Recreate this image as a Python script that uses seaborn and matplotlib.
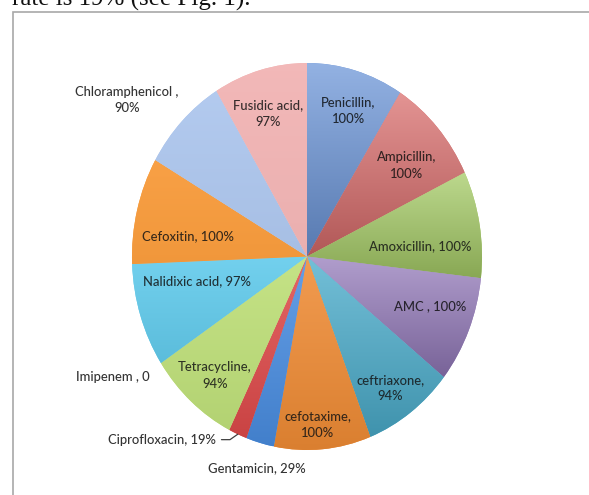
import numpy as np
import matplotlib
matplotlib.use("Agg")
import matplotlib.pyplot as plt
from matplotlib.patches import Rectangle
from matplotlib.colors import to_rgb
import seaborn as sns

# ---- data (clockwise from 12 o'clock) ----
drugs = ["Penicillin", "Ampicillin", "Amoxicillin", "AMC ", "ceftriaxone",
         "cefotaxime", "Gentamicin", "Ciprofloxacin", "Imipenem ", "Tetracycline",
         "Nalidixic acid", "Cefoxitin", "Chloramphenicol ", "Fusidic acid"]
resistance = [100, 100, 100, 100, 94, 100, 29, 19, 0, 94, 97, 100, 90, 97]
value_text = ["100%", "100%", "100%", "100%", "94%", "100%", "29%", "19%", "0",
              "94%", "97%", "100%", "90%", "97%"]

colors = ["#6b95d8", "#d96c6b", "#a5cb66", "#9379ba", "#4badcc", "#f08c35",
          "#4a8ee2", "#e04b4b", "#9bbb59", "#bfe07a", "#62cbec", "#f89c3d",
          "#aec7ee", "#f2b5b5"]
# how strong the top-light / bottom-dark shading is for each slice
shade = [0.9, 0.9, 0.85, 0.9, 0.75, 0.45, 0.5, 0.5, 0.5, 0.3, 0.35, 0.15, 0.2, 0.15]

# layout of labels: (line break?, radius factor, angular nudge in deg clockwise)
two_lines = [True, True, False, False, True, True, False, False, False, True,
             False, False, True, True]
label_r = [0.79, 0.74, 0.65, 0.75, 0.83, 0.87, 1.13, 1.26, 1.27, 0.81,
           0.64, 0.69, 1.31, 0.77]
label_nudge = [1.3, 2.2, 5.0, -2.6, 1.3, 1.1, -0.9, 18.0, 34.4, -1.0,
               6.2, -5.1, -6.2, -1.1]


def mix(c, other, t):
    c = np.array(to_rgb(c))
    return tuple(c * (1 - t) + np.array(other) * t)


sns.set_theme(style="white")
plt.rcParams["font.family"] = ["Lato", "DejaVu Sans"]

W, H = 589, 495
fig = plt.figure(figsize=(W / 100, H / 100), dpi=100)
fig.patch.set_facecolor("white")

# page fragment: caption text cut off at top and figure frame
fig.text(12 / W, 1 - 5.5 / H, "rate is 19% (see Fig. 1).", family="Liberation Serif",
         fontsize=18, color="#111111", ha="left", va="baseline")
fig.add_artist(Rectangle((13 / W, -0.1), 1.2, 1 - 12 / H + 0.1, transform=fig.transFigure,
                         fill=False, edgecolor="#a8a8a8", linewidth=1.2))

ax = fig.add_axes([132 / W, 45 / H, 350 / W, 387 / H])
wedges, _ = ax.pie(resistance, colors=colors, startangle=90, counterclock=False,
                   wedgeprops=dict(linewidth=0))

# vertical gradient inside each wedge
n = 64
for w, c, s in zip(wedges, colors, shade):
    if w.theta2 - w.theta1 <= 0:
        continue
    ext = w.get_path().get_extents()
    top = np.array(mix(c, (1, 1, 1), 0.30 * s))
    bot = np.array(mix(c, (0, 0, 0), 0.20 * s))
    t = np.linspace(0, 1, n)[:, None, None]
    grad = top[None, None, :] * (1 - t) + bot[None, None, :] * t
    im = ax.imshow(grad, extent=(ext.x0, ext.x1, ext.y0, ext.y1), origin="upper",
                   aspect="auto", interpolation="bilinear", zorder=1.5)
    im.set_clip_path(w)

ax.set_xlim(-1, 1)
ax.set_ylim(-1, 1)
ax.set_aspect("auto")
ax.axis("off")

for i, w in enumerate(wedges):
    mid = (w.theta1 + w.theta2) / 2.0 - label_nudge[i]
    r = label_r[i]
    x, y = r * np.cos(np.radians(mid)), r * np.sin(np.radians(mid))
    sep = "\n" if two_lines[i] else " "
    label = f"{drugs[i]},{sep}{value_text[i]}"
    inside = r < 1.0
    tc = mix(colors[i], (0.08, 0.08, 0.08), 0.85) if inside else "#333333"
    if drugs[i] == "Ciprofloxacin":
        emid = np.radians((w.theta1 + w.theta2) / 2.0)
        ax.annotate(label, xy=(np.cos(emid), np.sin(emid)), xytext=(x, y),
                    ha="center", va="center", fontsize=9.4, color=tc, zorder=3,
                    fontweight="medium",
                    arrowprops=dict(arrowstyle="-", color="#404040", lw=0.9,
                                    shrinkA=2, shrinkB=0, relpos=(1, 0.5),
                                    connectionstyle="angle,angleA=0,angleB=35,rad=0"))
    else:
        ax.text(x, y, label, ha="center", va="center", fontsize=9.4, zorder=3,
                color=tc, linespacing=1.45, fontweight="medium")

fig.savefig("out.png", dpi=100)
